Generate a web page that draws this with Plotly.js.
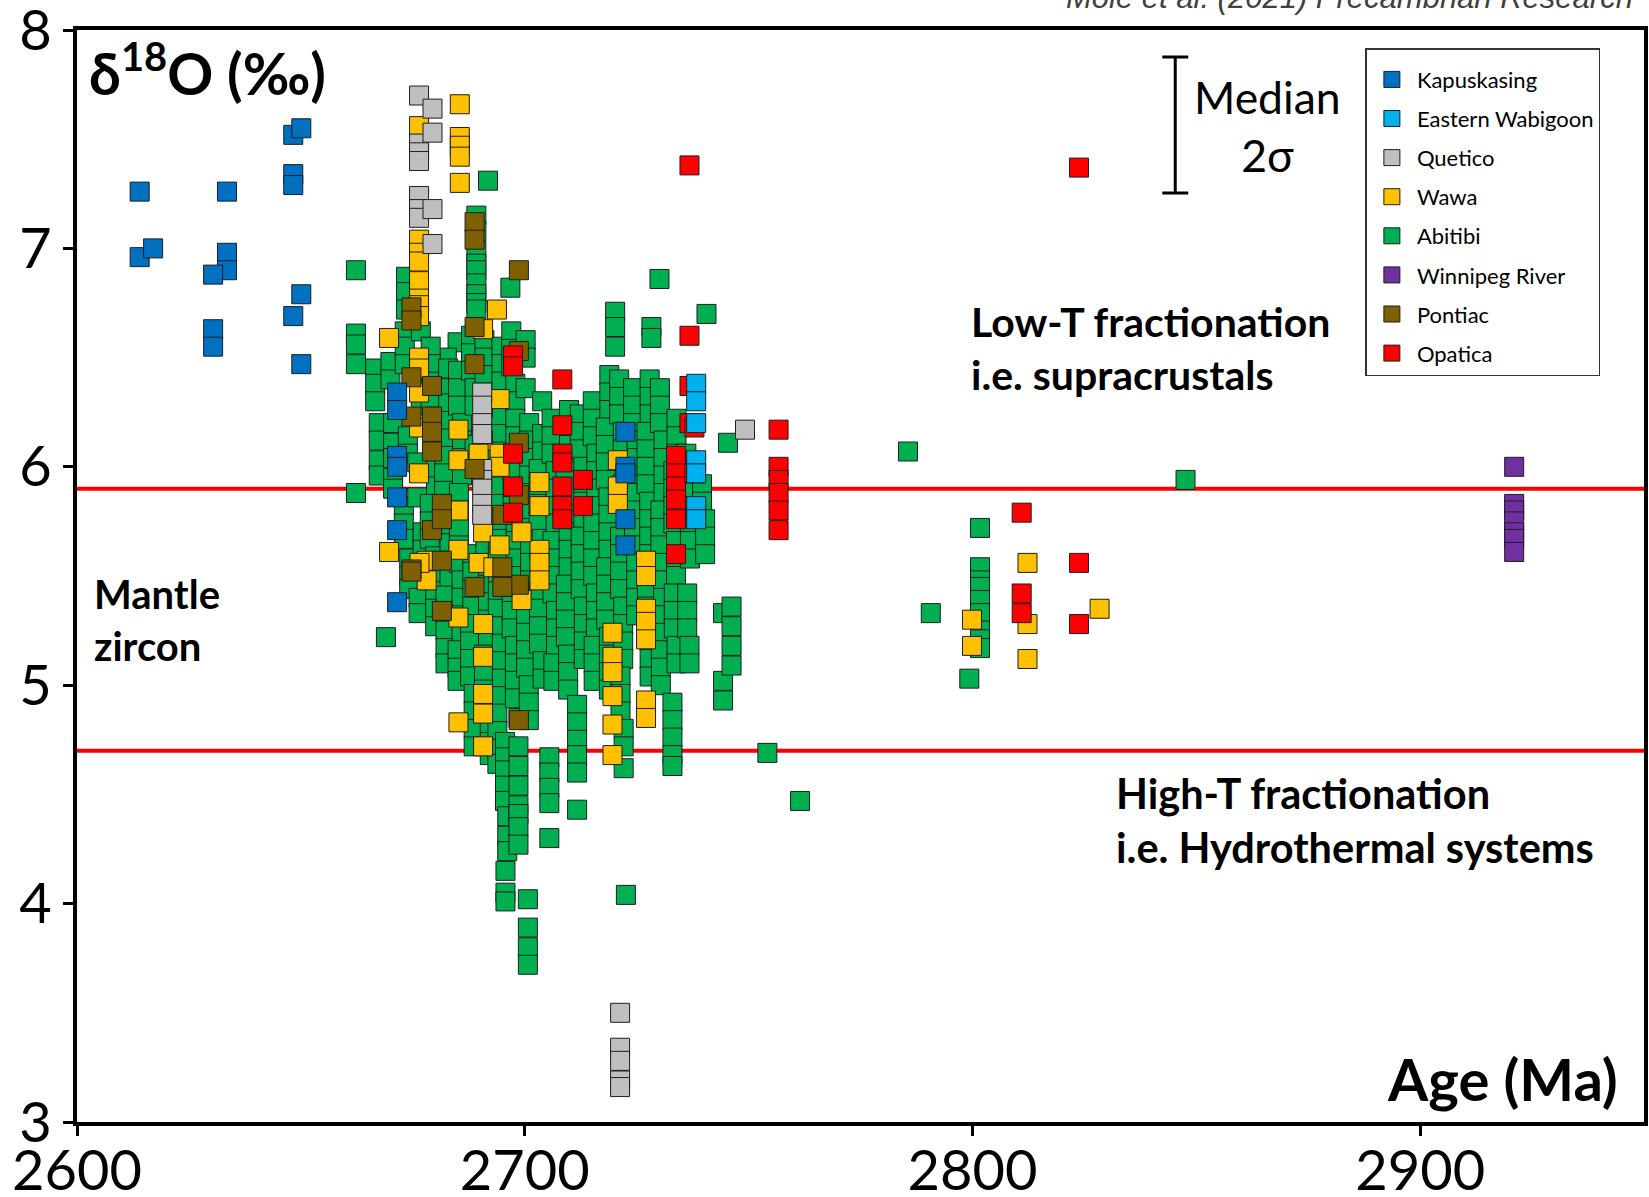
<!DOCTYPE html>
<html><head><meta charset="utf-8">
<script src="https://cdn.plot.ly/plotly-3.0.1.min.js"></script>
<style>html,body{margin:0;padding:0;background:#fff}</style>
</head><body><div id="chart" style="width:1649px;height:1197px"></div>
<script>
// ---- DATA: each entry = [age (Ma), [d18O values (permil) at that age]] ----
const kapuskasing = [
  [2614.0,[7.26,6.96]],[2617.0,[7.00]],[2633.5,[7.26,6.98,6.90]],[2630.4,[6.88,6.63,6.55]],
  [2648.3,[7.52,7.34,7.29,6.69]],[2650.1,[7.55,6.79,6.47]],
  [2671.5,[6.34,6.26,6.05,6.00,5.86,5.71,5.38]],[2722.5,[6.16,6.00,5.97,5.76,5.64]]
];
const easternWabigoon = [[2738.3,[6.38,6.30,6.20,6.03,5.97,5.82,5.76]]];
const quetico = [
  [2676.4,[7.70,7.48,7.44,7.40,7.24,7.18,7.14]],[2679.4,[7.64,7.53,7.18,7.02]],
  [2690.5,[6.34,6.28,6.20,6.15,5.99,5.94,5.90,5.83,5.78]],[2749.2,[6.17]],
  [2721.3,[3.50,3.34,3.28,3.19,3.16]]
];
const wawa = [
  [2669.7,[6.59,5.61]],
  [2676.4,[7.56,7.04,6.98,6.94,6.85,6.77,6.74,6.69,6.50,6.45,6.34,6.18,5.97]],
  [2685.5,[7.66,7.51,7.47,7.42,7.30]],[2693.8,[6.72]],
  [2690.7,[6.63,6.27,6.12,5.70,5.28,5.13,4.96,4.87,4.72]],
  [2694.4,[6.31,6.06,6.00,5.64]],[2685.2,[6.17,6.03,5.80,5.62,5.31,4.83]],
  [2689.7,[6.06,5.56]],[2693.0,[5.54]],[2678.1,[5.57,5.48]],[2676.5,[5.56]],
  [2703.3,[5.93,5.82,5.62,5.56,5.48]],[2699.3,[5.70,5.39]],
  [2719.6,[5.24,5.13,5.06,4.95,4.82,4.68]],[2720.8,[6.03,5.91,5.83]],
  [2727.1,[5.57,5.50,5.35,5.29,5.21,4.93,4.85]],
  [2799.9,[5.30,5.18]],[2812.3,[5.56,5.28,5.12]],[2828.4,[5.35]]
];
const abitibi = [
  [2662.3,[6.90,6.61,6.56,6.47,5.88]],[2669.0,[5.22]],[2691.8,[7.31]],
  [2689.2,[7.15,7.08,6.99,6.93,6.90,6.84,6.79,6.75,6.72]],[2696.8,[6.82]],
  [2730.1,[6.86]],[2740.6,[6.70]],[2720.2,[6.71,6.64,6.55]],[2728.3,[6.64,6.59]],
  [2745.4,[6.11]],[2673.5,[6.87,6.80,6.72]],[2685.0,[6.57]],[2682.6,[6.50]],
  [2666.6,[6.45,6.38,6.30]],[2667.4,[6.20,6.12,6.03,5.96]],
  [2670.0,[6.48,6.40]],[2670.6,[6.20,6.11,6.04,5.95,5.90]],
  [2673.2,[6.62,6.55,6.47]],[2673.9,[6.14,6.06]],[2673.0,[5.82,5.74,5.67]],[2674.2,[5.58,5.50,5.44]],
  [2676.8,[6.62,6.28]],[2676.0,[6.02,5.86]],[2677.2,[5.70,5.62]],[2676.3,[5.40,5.33]],
  [2679.0,[6.55,6.47,6.39,6.31]],[2680.2,[6.23,6.15,6.07,5.99,5.91]],[2678.8,[5.83,5.75,5.67]],[2680.0,[5.59,5.51,5.43,5.35,5.27]],
  [2682.9,[6.45,6.36,6.29,6.21]],[2682.0,[6.13,6.05,5.97,5.89]],[2683.2,[5.81,5.73,5.65,5.57,5.49]],[2682.3,[5.41,5.33,5.25,5.17,5.10]],
  [2685.1,[6.44,6.36,6.28]],[2686.0,[6.20,6.12,6.04,5.96]],[2685.3,[5.88,5.80,5.72,5.64,5.56]],[2685.9,[5.48,5.40,5.32,5.24]],[2685.0,[5.16,5.08,5.02]],
  [2688.0,[6.60,6.52,6.44]],[2688.8,[6.36,6.28,6.10]],[2688.3,[5.60,5.52,5.44,5.36]],[2687.8,[5.28,5.20,5.12,5.04]],[2688.6,[4.96,4.88,4.80,4.72]],
  [2691.0,[6.58,6.50,6.42,6.34]],[2692.0,[6.26,6.18,6.10,6.02,5.94]],[2691.2,[5.86,5.78,5.70,5.62]],[2691.8,[5.54,5.46,5.38,5.30,5.22]],[2690.9,[5.14,5.06,4.98]],[2692.2,[4.90,4.82,4.74,4.68]],
  [2694.8,[6.55,6.47,6.39]],[2693.8,[6.31,6.23,6.15,6.07]],[2694.6,[5.99,5.91,5.83,5.75]],[2694.0,[5.67,5.59,5.51,5.43,5.35]],[2694.9,[5.27,5.19,5.11,5.03]],[2693.9,[4.95,4.87,4.79,4.71,4.64]],
  [2695.6,[4.74,4.67,4.61,4.54,4.47]],[2696.1,[4.40,4.31,4.24]],[2695.7,[4.15,4.05,4.01]],
  [2697.0,[6.62,6.54,6.46]],[2697.9,[6.38,6.30,6.22,6.14]],[2697.3,[6.06,5.98,5.90,5.82]],[2698.0,[5.74,5.66,5.58,5.50]],[2697.1,[5.42,5.34,5.26]],[2697.8,[5.18,5.10,5.02,4.94]],
  [2698.6,[4.85,4.72,4.63,4.54,4.45,4.41,4.35,4.27]],
  [2700.7,[4.02,3.89,3.80,3.72]],
  [2700.2,[6.58,6.50,6.36]],[2701.0,[6.20,6.12,6.04,5.96]],[2700.4,[5.88,5.80,5.72]],[2701.2,[5.64,5.56,5.48,5.40]],[2700.3,[5.32,5.24,5.16,5.08]],[2700.9,[5.00,4.92,4.84]],
  [2703.9,[6.30,6.15,6.07]],[2703.1,[5.99,5.91,5.83,5.75]],[2703.8,[5.67,5.59,5.51]],[2703.2,[5.43,5.35,5.27,5.19]],[2704.0,[5.11,5.03]],
  [2705.5,[4.67,4.60,4.53,4.46,4.30]],
  [2706.0,[6.22,6.14,6.06]],[2706.9,[5.98,5.90,5.82,5.74]],[2706.2,[5.66,5.58,5.50,5.42]],[2707.0,[5.34,5.26,5.18]],[2706.4,[5.10,5.02]],
  [2709.9,[6.26,6.18,6.10]],[2709.1,[6.02,5.94,5.86,5.78]],[2709.8,[5.70,5.62,5.54]],[2709.2,[5.46,5.38,5.30,5.22]],[2709.7,[5.14,5.06,4.98]],
  [2711.7,[4.91,4.83,4.75,4.68,4.60,4.43]],
  [2712.3,[6.24,6.16,6.08]],[2713.1,[6.00,5.92,5.84,5.76]],[2712.5,[5.68,5.60,5.52,5.44]],[2713.2,[5.36,5.28,5.20,5.12]],
  [2715.2,[6.30,6.22,6.14]],[2716.0,[6.06,5.98,5.90,5.82]],[2715.3,[5.74,5.66,5.58,5.50]],[2715.9,[5.42,5.34,5.26]],[2715.4,[5.18,5.10,5.02]],
  [2718.9,[6.42,6.34,6.26]],[2718.1,[6.18,6.10,6.02,5.94]],[2718.7,[5.86,5.78,5.70,5.62]],[2718.2,[5.54,5.46,5.38,5.30]],[2718.8,[5.22,5.14,5.06,4.98]],
  [2721.1,[6.40,6.32,6.24]],[2721.9,[6.16,6.08,5.92,5.84]],[2721.3,[5.68,5.60,5.52,5.44]],[2722.0,[5.36,5.28,5.20,5.12]],[2721.4,[5.04,4.96,4.88]],[2722.1,[4.80,4.72,4.62]],
  [2722.6,[4.04]],
  [2724.2,[6.36,6.28,6.20]],[2725.0,[6.12,6.04,5.96,5.88]],[2724.4,[5.80,5.72,5.64]],[2724.9,[5.56,5.48,5.40,5.32]],
  [2727.9,[6.40,6.32,6.24]],[2727.2,[6.16,6.08,6.00,5.92]],[2727.8,[5.84,5.76,5.68,5.60]],[2727.3,[5.52,5.44,5.36]],[2727.9,[5.28,5.20,5.12,5.04]],
  [2730.2,[6.36,6.28,6.20]],[2731.0,[6.12,6.04,5.96,5.88]],[2730.3,[5.80,5.72,5.64,5.56]],[2730.9,[5.48,5.40,5.32,5.24]],[2730.4,[5.16,5.08,5.00]],
  [2733.0,[4.92,4.84,4.76,4.68,4.63]],
  [2733.9,[6.22,6.14,6.06]],[2733.2,[5.98,5.90,5.82,5.74]],[2733.8,[5.66,5.58,5.50]],[2733.3,[5.42,5.34,5.26]],[2733.9,[5.18,5.10]],
  [2736.1,[6.06,5.98,5.90]],[2736.9,[5.82,5.74,5.66,5.58]],[2736.3,[5.42,5.34,5.26]],[2736.8,[5.18,5.10]],
  [2739.6,[5.92,5.84]],[2740.3,[5.76,5.68,5.60]],
  [2744.3,[5.33,5.02,4.93]],[2746.2,[5.36,5.27,5.18,5.09]],
  [2754.2,[4.69]],[2761.5,[4.47]],[2785.6,[6.07]],[2790.7,[5.33]],[2799.3,[5.03]],
  [2801.7,[5.72,5.54,5.48,5.45,5.39,5.33,5.25,5.21,5.17]],[2847.6,[5.94]]
];
const winnipegRiver = [[2921.0,[6.00,5.83,5.80,5.75,5.70,5.67,5.61]]];
const pontiac = [
  [2688.8,[7.12,7.04,6.64,6.47,5.99,5.45]],[2698.7,[6.90,6.53,6.11,5.87,5.46,4.84]],
  [2674.7,[6.73,6.67,6.41,6.23,5.53,5.52]],[2679.3,[6.37,6.23,6.16,6.07,5.71]],
  [2681.5,[5.83,5.76,5.57,5.34]],[2695.0,[5.78,5.54,5.45]]
];
const opatica = [
  [2697.4,[6.51,6.46,6.06,5.91,5.79]],[2708.4,[6.40,6.19,6.06,6.02,5.91,5.82,5.76]],
  [2713.0,[5.94,5.82]],[2733.8,[6.05,5.97,5.91,5.85,5.76,5.60]],
  [2736.8,[7.38,6.60,6.37,6.20]],[2737.9,[6.18,5.97]],
  [2756.7,[6.17,6.00,5.94,5.88,5.80,5.71]],[2811.0,[5.79,5.42,5.33]],[2823.8,[7.37,5.56,5.28]]
];
const mantleUpper = 5.9, mantleLower = 4.7;      // mantle zircon band
const median2sigmaHalf = 0.311;                   // half of the median 2σ bar
const xTicks = [2600, 2700, 2800, 2900];
const yTicks = [3, 4, 5, 6, 7, 8];

// ---- series definitions (draw order bottom->top), legend rank ----
const seriesList = [
  {name:'Abitibi', data:abitibi, color:'#00B050', rank:5},
  {name:'Wawa', data:wawa, color:'#FFC000', rank:4},
  {name:'Quetico', data:quetico, color:'#BFBFBF', rank:3},
  {name:'Pontiac', data:pontiac, color:'#7F6000', rank:7},
  {name:'Opatica', data:opatica, color:'#FF0000', rank:8},
  {name:'Kapuskasing', data:kapuskasing, color:'#0070C0', rank:1},
  {name:'Eastern Wabigoon', data:easternWabigoon, color:'#00B0F0', rank:2},
  {name:'Winnipeg River', data:winnipegRiver, color:'#7030A0', rank:6}
];
function flatten(cols){const x=[],y=[];cols.forEach(([a,v])=>v.forEach(d=>{x.push(a);y.push(d);}));return {x,y};}

const traces = seriesList.map(s=>{
  const f = flatten(s.data);
  return {type:'scatter', mode:'markers', name:s.name, x:f.x, y:f.y,
    legendrank:s.rank, legendgroup:s.name,
    marker:{symbol:'square', size:19, color:s.color, line:{width:1, color:'#1e1e1e'}},
    hovertemplate:s.name+': %{x} Ma, %{y}‰<extra></extra>'};
});
// Median 2σ reference bar
traces.push({type:'scatter', mode:'markers', x:[2845.3], y:[7.565], showlegend:false, hoverinfo:'skip',
  marker:{size:1, opacity:0}, error_y:{type:'data', array:[median2sigmaHalf], visible:true, color:'#000', thickness:3, width:13}});

const F = 'Lato, "Open Sans", sans-serif';
const axisCommon = {ticks:'outside', ticklen:10, tickwidth:3, tickcolor:'#000',
  showline:true, linewidth:4, linecolor:'#000', mirror:true, showgrid:false, zeroline:false,
  ticklabeloverflow:'allow', tickfont:{family:F, size:56, color:'#000'}};
const layout = {
  width:1649, height:1197, paper_bgcolor:'#fff', plot_bgcolor:'#fff',
  margin:{l:77, r:5, t:30, b:75},
  font:{family:F, color:'#000'},
  xaxis:Object.assign({range:[2600,2950], tickvals:xTicks, ticklabelstandoff:-13}, axisCommon),
  yaxis:Object.assign({range:[3,8], tickvals:yTicks}, axisCommon),
  showlegend:true,
  legend:{x:0.8222, y:0.9835, xanchor:'left', yanchor:'top', bgcolor:'#fff', bordercolor:'#333', borderwidth:1.5,
    font:{family:F, size:22, color:'#000'}, itemwidth:40, tracegroupgap:7.5, traceorder:'grouped',
    title:{text:'\u200b', font:{family:F, size:7}}},
  shapes:[
    {type:'line', xref:'paper', x0:0, x1:1, yref:'y', y0:mantleUpper, y1:mantleUpper, line:{color:'#FF0000', width:4}, layer:'below'},
    {type:'line', xref:'paper', x0:0, x1:1, yref:'y', y0:mantleLower, y1:mantleLower, line:{color:'#FF0000', width:4}, layer:'below'}
  ],
  annotations:[
    {xref:'x', yref:'y', x:2602.2, y:7.817, xanchor:'left', yanchor:'middle', showarrow:false,
      text:'<b>δ<sup>18</sup>O (‰)</b>', font:{family:F, size:57, color:'#000'}},
    {xref:'x', yref:'y', x:2944.6, y:3.20, xanchor:'right', yanchor:'middle', showarrow:false,
      text:'<b>Age (Ma)</b>', font:{family:F, size:58, color:'#000'}},
    {xref:'x', yref:'y', x:2603.4, y:5.30, xanchor:'left', yanchor:'middle', align:'left', showarrow:false,
      text:'<b>Mantle<br>zircon</b>', font:{family:F, size:40, color:'#000'}},
    {xref:'x', yref:'y', x:2799.3, y:6.544, xanchor:'left', yanchor:'middle', align:'left', showarrow:false,
      text:'<b>Low-T fractionation<br>i.e. supracrustals</b>', font:{family:F, size:41, color:'#000'}},
    {xref:'x', yref:'y', x:2831.7, y:4.385, xanchor:'left', yanchor:'middle', align:'left', showarrow:false,
      text:'<b>High-T fractionation<br>i.e. Hydrothermal systems</b>', font:{family:F, size:41.5, color:'#000'}},
    {xref:'x', yref:'y', x:2866.0, y:7.565, xanchor:'center', yanchor:'middle', align:'center', showarrow:false,
      text:'Median<br>2σ', font:{family:F, size:44.5, color:'#000'}},
    {xref:'paper', yref:'paper', x:0.9943, y:1.02995, xanchor:'right', yanchor:'middle', showarrow:false,
      text:'<i>Mole et al. (2021) Precambrian Research</i>', font:{family:'"Liberation Sans", Arial, sans-serif', size:31, color:'#404040'}}
  ]
};
Plotly.newPlot('chart', traces, layout, {displayModeBar:false});
</script></body></html>
